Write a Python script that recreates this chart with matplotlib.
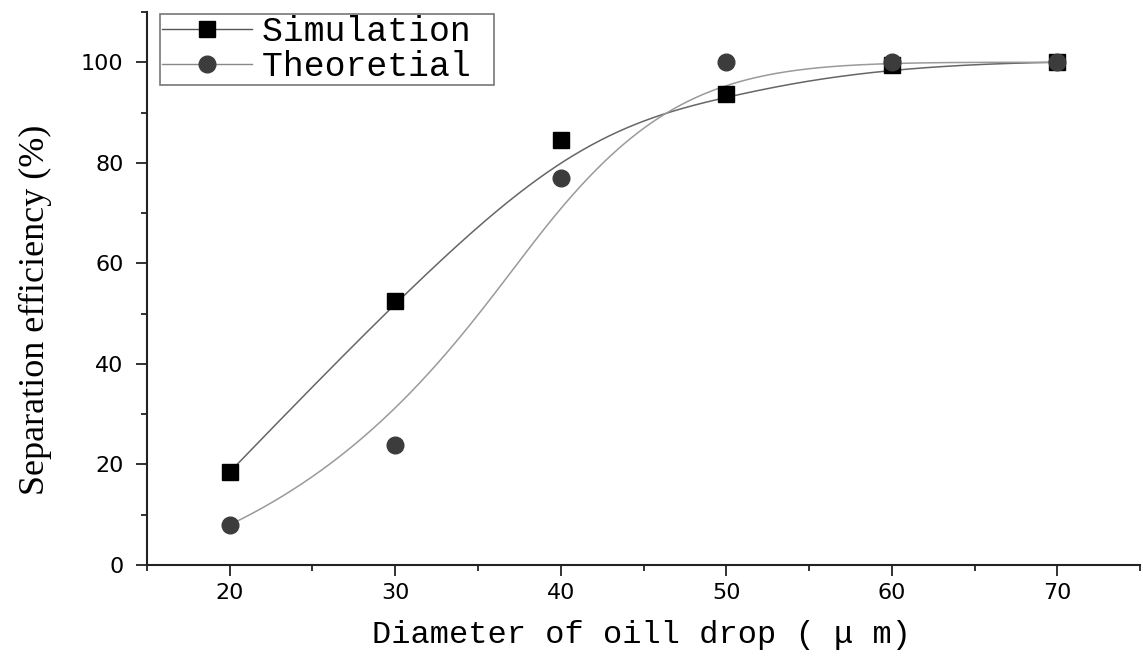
import numpy as np
import matplotlib.pyplot as plt
from matplotlib.ticker import MultipleLocator

# データ
diameter = [20, 30, 40, 50, 60, 70]
simulation = [18.5, 52.6, 84.5, 93.7, 99.5, 100.0]
theoretical = [8.0, 23.8, 77.0, 100.0, 100.0, 100.0]


# B-spline (clamped, cubic) through control points, like the Origin connect line
def bspline(xs, ys, k=3, num=400):
    pts = np.column_stack([xs, ys]).astype(float)
    n = len(pts)
    inner = np.arange(1, n - k)
    knots = np.concatenate([np.zeros(k + 1), inner, np.full(k + 1, n - k)])
    u = np.linspace(0, n - k, num)
    u[-1] -= 1e-9

    def basis(i, p, u):
        if p == 0:
            return ((knots[i] <= u) & (u < knots[i + 1])).astype(float)
        a = np.zeros_like(u)
        b = np.zeros_like(u)
        d1 = knots[i + p] - knots[i]
        d2 = knots[i + p + 1] - knots[i + 1]
        if d1 > 0:
            a = (u - knots[i]) / d1 * basis(i, p - 1, u)
        if d2 > 0:
            b = (knots[i + p + 1] - u) / d2 * basis(i + 1, p - 1, u)
        return a + b

    B = np.array([basis(i, k, u) for i in range(n)])
    curve = B.T @ pts
    return curve[:, 0], curve[:, 1]


fig = plt.figure(figsize=(11.43, 6.56), dpi=100)
ax = fig.add_axes([0.1286, 0.1387, 0.8688, 0.843])

sx, sy = bspline(diameter, simulation)
tx, ty = bspline(diameter, theoretical)

ax.plot(sx, sy, color="#666666", lw=1.1, zorder=2)
ax.plot(tx, ty, color="#9a9a9a", lw=1.1, zorder=2)
ax.plot(diameter, simulation, "s", color="black", ms=12, zorder=3)
ax.plot(diameter, theoretical, "o", color="#3c3c3c", ms=12, zorder=3)

# 凡例用ハンドル
h1, = ax.plot([], [], "-s", color="#555555", mfc="black", mec="black", ms=12, lw=1.0)
h2, = ax.plot([], [], "-o", color="#888888", mfc="#3c3c3c", mec="#3c3c3c", ms=12, lw=1.0)

leg = ax.legend(
    [h1, h2], ["Simulation ", "Theoretial "],
    loc="upper left", bbox_to_anchor=(0.013, 0.997), borderaxespad=0,
    prop={"family": "Liberation Mono", "size": 25},
    handlelength=2.6, handletextpad=0.3, labelspacing=0.04,
    borderpad=0.05, fancybox=False, framealpha=1,
)
leg.get_frame().set_edgecolor("#777777")
leg.get_frame().set_linewidth(1.2)

ax.set_xlim(15, 75)
ax.set_ylim(0, 110)
ax.set_xticks([20, 30, 40, 50, 60, 70])
ax.set_yticks([0, 20, 40, 60, 80, 100])
ax.xaxis.set_minor_locator(MultipleLocator(5))
ax.yaxis.set_minor_locator(MultipleLocator(10))

for s in ["top", "right"]:
    ax.spines[s].set_visible(False)
for s in ["left", "bottom"]:
    ax.spines[s].set_linewidth(1.5)
    ax.spines[s].set_color("#222222")

ax.tick_params(which="major", direction="out", length=8, width=1.3, color="#222222")
ax.tick_params(which="minor", direction="out", length=4, width=1.3, color="#222222")
ax.tick_params(axis="x", pad=5)
ax.tick_params(axis="y", pad=9)
for lab in ax.get_xticklabels() + ax.get_yticklabels():
    lab.set_fontfamily("DejaVu Sans")
    lab.set_fontsize(16)

fig.text(0.561, 0.032, "Diameter of oill drop ( μ m)", ha="center", va="center",
         family="Liberation Mono", fontsize=23)
fig.text(0.031, 0.527, "Separation efficiency (%)", ha="center", va="center",
         rotation=90, family="Liberation Serif", fontsize=26)

plt.savefig("out.png", dpi=100)
